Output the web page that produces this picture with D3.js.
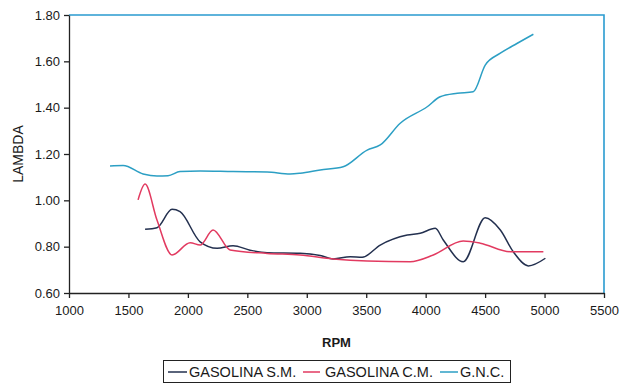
<!DOCTYPE html>
<html><head><meta charset="utf-8">
<script src="https://cdn.jsdelivr.net/npm/d3@7"></script>
<style>body{margin:0;background:#fff}svg{display:block}text{font-family:"Liberation Sans",Arial,sans-serif;fill:#1a1a1a}</style>
</head><body><svg id="c" width="621" height="383"></svg>
<script>
const xTicks=[1000,1500,2000,2500,3000,3500,4000,4500,5000,5500];
const yTicks=[0.6,0.8,1.0,1.2,1.4,1.6,1.8];
const seriesNames=["GASOLINA S.M.","GASOLINA C.M.","G.N.C."];
const gasSM=[[1640,0.875],[1740,0.882],[1867,0.961],[1934,0.951],[2103,0.821],[2246,0.793],[2380,0.804],[2523,0.785],[2666,0.774],[2944,0.772],[3113,0.762],[3222,0.747],[3365,0.757],[3466,0.754],[3618,0.807],[3845,0.85],[3954,0.858],[4081,0.879],[4148,0.829],[4316,0.735],[4501,0.925],[4628,0.872],[4737,0.778],[4864,0.717],[5007,0.75]];
const gasCM=[[1581,1.002],[1640,1.07],[1740,0.915],[1867,0.764],[2019,0.817],[2103,0.807],[2212,0.872],[2355,0.786],[2666,0.771],[2944,0.764],[3222,0.747],[3508,0.738],[3870,0.735],[4064,0.764],[4316,0.824],[4459,0.815],[4712,0.778],[4990,0.778]];
const gnc=[[1345,1.148],[1455,1.15],[1623,1.114],[1740,1.105],[1833,1.106],[1934,1.124],[2103,1.127],[2380,1.124],[2666,1.122],[2860,1.114],[2944,1.117],[3113,1.131],[3306,1.145],[3508,1.217],[3618,1.239],[3786,1.333],[4013,1.404],[4122,1.447],[4266,1.462],[4400,1.469],[4501,1.584],[4628,1.635],[4771,1.678],[4906,1.717]];
const colors=["#23304f","#e23a60","#2c9fc4"];
const svg=d3.select("#c");
const x=d3.scaleLinear().domain([1000,5500]).range([69,604]);
const y=d3.scaleLinear().domain([0.6,1.8]).range([293,15]);
svg.append("path").attr("d",`M${x(1000)},${y(1.8)}H${x(5500)}V${y(0.6)}`).attr("fill","none").attr("stroke","#2a9bd0").attr("stroke-width",1.6);
const gx=svg.append("g").attr("transform",`translate(0,${y(0.6)})`).call(d3.axisBottom(x).tickValues(xTicks).tickFormat(d3.format("d")).tickSize(5).tickSizeOuter(0));
const gy=svg.append("g").attr("transform",`translate(${x(1000)},0)`).call(d3.axisLeft(y).tickValues(yTicks).tickFormat(d3.format(".2f")).tickSize(5).tickSizeOuter(0));
[gx,gy].forEach(g=>{g.selectAll("path,line").attr("stroke","#222").attr("stroke-width",1.3);g.selectAll("text").attr("font-size",13).attr("font-family","Liberation Sans, Arial, sans-serif").attr("fill","#1a1a1a");});
gx.selectAll("text").attr("dy","1.05em");
gy.selectAll("text").attr("x",-9);
const line=d3.line().x(d=>x(d[0])).y(d=>y(d[1])).curve(d3.curveMonotoneX);
[gasSM,gasCM,gnc].forEach((s,i)=>svg.append("path").attr("d",line(s)).attr("fill","none").attr("stroke",colors[i]).attr("stroke-width",1.5));
svg.append("text").attr("x",(x(1000)+x(5500))/2).attr("y",347).attr("text-anchor","middle").attr("font-size",13).attr("font-weight","bold").text("RPM");
svg.append("text").attr("transform",`translate(23,${(y(0.6)+y(1.8))/2}) rotate(-90)`).attr("text-anchor","middle").attr("font-size",14).text("LAMBDA");
svg.append("rect").attr("x",163.5).attr("y",360.5).attr("width",347).attr("height",22).attr("fill","#fff").attr("stroke","#222");
const lx=[[168,187,189],[303,320,325],[440,458,460]];
seriesNames.forEach((n,i)=>{
 svg.append("line").attr("x1",lx[i][0]).attr("x2",lx[i][1]).attr("y1",372).attr("y2",372).attr("stroke",colors[i]).attr("stroke-width",1.5);
 svg.append("text").attr("x",lx[i][2]).attr("y",377).attr("font-size",14.5).text(n);
});
</script></body></html>
